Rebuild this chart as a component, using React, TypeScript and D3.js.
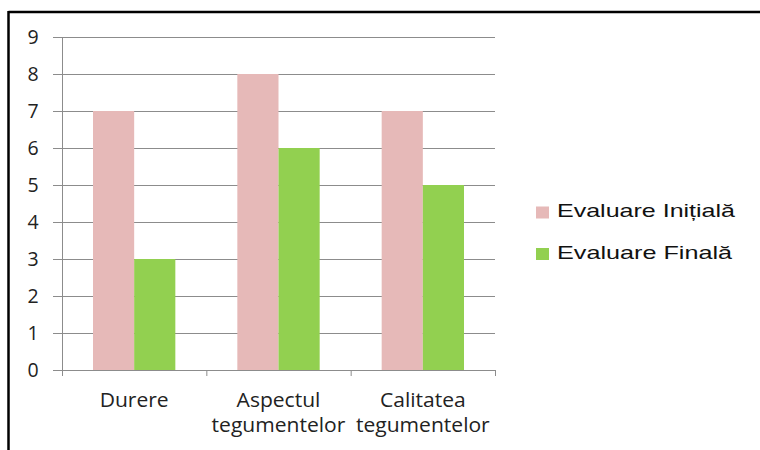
import React from "react";
import * as d3 from "d3";

const categories = [["Durere"], ["Aspectul", "tegumentelor"], ["Calitatea", "tegumentelor"]];
const seriesNames = ["Evaluare Inițială", "Evaluare Finală"];
const initial = [7, 8, 7];
const final = [3, 6, 5];
const yTicks = [0, 1, 2, 3, 4, 5, 6, 7, 8, 9];
const colors = ["#E6B9B8", "#92D050"];
const legendWidths = [178, 175];

export default function App() {
  const W = 760, H = 450;
  const left = 62, right = 495, top = 37, bottom = 370;
  const x = d3.scaleBand<number>().domain(d3.range(categories.length)).range([left, right]).paddingInner(0).paddingOuter(0);
  const y = d3.scaleLinear().domain([0, 9]).range([bottom, top]);
  const inner = d3.scaleBand<number>().domain([0, 1]).range([31, x.bandwidth() - 31]);
  const series = [initial, final];
  const font = "'Open Sans', 'Liberation Sans', sans-serif";
  return (
    <svg width={W} height={H} style={{ position: "absolute", left: 0, top: 0, background: "#fff" }}>
      <line x1={8.5} y1={12} x2={W} y2={12} stroke="#000" strokeWidth={2.5} />
      <line x1={8.5} y1={11} x2={8.5} y2={H} stroke="#000" strokeWidth={2.5} />
      {yTicks.map((t) => (
        <g key={t}>
          <line x1={left - 9} x2={right} y1={Math.round(y(t)) + 0.5} y2={Math.round(y(t)) + 0.5} stroke="#8c8c8c" strokeWidth={1} />
          <text x={33} y={y(t) + 6.5} textAnchor="middle" fontFamily={font} fontSize={19.5} fill="#222">{t}</text>
        </g>
      ))}
      {categories.map((c, i) =>
        series.map((s, j) => (
          <rect key={`${i}-${j}`} x={(x(i) as number) + (inner(j) as number)} y={y(s[i])} width={inner.bandwidth()} height={bottom - y(s[i])} fill={colors[j]} />
        ))
      )}
      <line x1={left + 0.5} x2={left + 0.5} y1={top} y2={bottom + 6} stroke="#8c8c8c" />
      <line x1={left} x2={right} y1={bottom + 0.5} y2={bottom + 0.5} stroke="#8c8c8c" />
      {d3.range(categories.length + 1).map((i) => {
        const xx = i < categories.length ? (x(i) as number) : right;
        return <line key={i} x1={xx + 0.5} x2={xx + 0.5} y1={bottom} y2={bottom + 6} stroke="#8c8c8c" />;
      })}
      {categories.map((c, i) => (
        <g key={i} transform={`translate(${(x(i) as number) + x.bandwidth() / 2},0) scale(1.08,1)`}>
          <text textAnchor="middle" fontFamily={font} fontSize={19.5} fill="#222">
            {c.map((line, k) => (
              <tspan key={k} x={0} y={407 + k * 25}>{line}</tspan>
            ))}
          </text>
        </g>
      ))}
      {seriesNames.map((n, j) => (
        <g key={n}>
          <rect x={536} y={206.5 + j * 41.5} width={13} height={12} fill={colors[j]} />
          <text x={557} y={217 + j * 41.5} fontFamily="'Liberation Sans', Arial, sans-serif" fontSize={18.5} fill="#111" textLength={legendWidths[j]} lengthAdjust="spacingAndGlyphs">{n}</text>
        </g>
      ))}
    </svg>
  );
}
